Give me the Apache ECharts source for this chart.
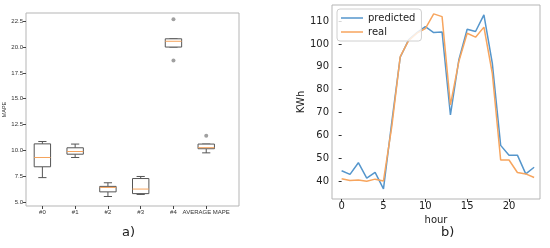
<!DOCTYPE html>
<html>
<head>
<meta charset="utf-8">
<script src="https://cdn.jsdelivr.net/npm/echarts@6/dist/echarts.min.js"></script>
<style>
  html, body { margin: 0; padding: 0; background: #fff; }
  #main { width: 550px; height: 248px; }
</style>
</head>
<body>
<div id="main"></div>
<script>
// a) MAPE boxplots
var boxNames = ['#0', '#1', '#2', '#3', '#4', 'AVERAGE MAPE'];
var boxMin = [7.35, 9.3, 5.52, 5.72, 20.0, 9.75];
var boxQ1 = [8.4, 9.62, 5.97, 5.8, 20.0, 10.15];
var boxMedian = [9.3, 9.88, 6.4, 6.24, 20.56, 10.25];
var boxQ3 = [10.62, 10.24, 6.5, 7.26, 20.8, 10.6];
var boxMax = [10.85, 10.6, 6.85, 7.46, 20.8, 10.6];
var outliers = [[5, 22.7], [5, 18.7], [6, 11.4]];
var mapeTicks = [5, 7.5, 10, 12.5, 15, 17.5, 20, 22.5];

// b) hourly consumption
var hours = [0, 1, 2, 3, 4, 5, 6, 7, 8, 9, 10, 11, 12, 13, 14, 15, 16, 17, 18, 19, 20, 21, 22, 23];
var predicted = [44.5, 42.9, 48.0, 41.2, 43.8, 36.5, 66, 94.2, 101.8, 105, 107.6, 105.0, 105.3, 68.9, 93, 106.5, 105.5, 112.8, 91.6, 55.6, 51.3, 51.3, 43.1, 46.0];
var real = [41.0, 40.2, 40.4, 39.9, 40.8, 40.0, 64, 94.5, 101.5, 104.8, 106.8, 113.2, 112.0, 73.3, 92.3, 104.7, 103.0, 107.4, 87.2, 49.2, 49.2, 43.7, 43.1, 41.5];
var hourTicks = [0, 5, 10, 15, 20];
var kwhTicks = [40, 50, 60, 70, 80, 90, 100, 110];

var boxData = [];
for (var i = 0; i < boxNames.length; i++) {
    boxData.push([i + 1, boxMin[i], boxQ1[i], boxMedian[i], boxQ3[i], boxMax[i]]);
}

function pairs(xs, ys) {
    var out = [];
    for (var i = 0; i < xs.length; i++) out.push([xs[i], ys[i]]);
    return out;
}

var chart = echarts.init(document.getElementById('main'));

var edge = '#555';
var frame = '#b5b5b5';
var smallFont = 'Liberation Sans';
var bigFont = 'DejaVu Sans';

function renderBox(params, api) {
    var x = api.value(0);
    var pMin = api.coord([x, api.value(1)]);
    var pQ1 = api.coord([x, api.value(2)]);
    var pMed = api.coord([x, api.value(3)]);
    var pQ3 = api.coord([x, api.value(4)]);
    var pMax = api.coord([x, api.value(5)]);
    var w = api.size([0.5, 0])[0];
    var cx = pMed[0];
    var line = { stroke: edge, lineWidth: 1 };
    return {
        type: 'group',
        children: [
            { type: 'line', shape: { x1: cx, y1: pQ1[1], x2: cx, y2: pMin[1] }, style: line },
            { type: 'line', shape: { x1: cx, y1: pQ3[1], x2: cx, y2: pMax[1] }, style: line },
            { type: 'line', shape: { x1: cx - w / 4, y1: pMin[1], x2: cx + w / 4, y2: pMin[1] }, style: line },
            { type: 'line', shape: { x1: cx - w / 4, y1: pMax[1], x2: cx + w / 4, y2: pMax[1] }, style: line },
            { type: 'rect', shape: { x: cx - w / 2, y: pQ3[1], width: w, height: pQ1[1] - pQ3[1] },
              style: { fill: '#fff', stroke: edge, lineWidth: 1 } },
            { type: 'line', shape: { x1: cx - w / 2, y1: pMed[1], x2: cx + w / 2, y2: pMed[1] },
              style: { stroke: '#f5a35c', lineWidth: 1 } }
        ]
    };
}

var option = {
    animation: false,
    backgroundColor: '#fff',

    grid: [
        { left: 26, right: 311, top: 13, bottom: 42, show: true, borderColor: frame, borderWidth: 1 },
        { left: 332, right: 10, top: 5, bottom: 49, show: true, borderColor: frame, borderWidth: 1 }
    ],

    xAxis: [
        {
            gridIndex: 0, type: 'value', min: 0.5, max: 7,
            axisLine: { show: false },
            splitLine: { show: false },
            axisTick: { show: true, length: 3, lineStyle: { color: '#444' }, customValues: [1, 2, 3, 4, 5, 6] },
            axisLabel: {
                customValues: [1, 2, 3, 4, 5, 6], fontSize: 6, color: '#333', margin: 3, fontFamily: smallFont,
                formatter: function (v) { return boxNames[Math.round(v) - 1] || ''; }
            }
        },
        {
            gridIndex: 1, type: 'value', min: -1.15, max: 23.7,
            name: 'hour', nameLocation: 'middle', nameGap: 9,
            nameTextStyle: { fontSize: 10, color: '#222', fontFamily: bigFont },
            axisLine: { show: false },
            splitLine: { show: false },
            axisTick: { show: true, length: 3, lineStyle: { color: '#333' }, customValues: hourTicks },
            axisLabel: { customValues: hourTicks, fontSize: 10, color: '#222', margin: 2, fontFamily: bigFont }
        }
    ],

    yAxis: [
        {
            gridIndex: 0, type: 'value', min: 4.6, max: 23.3,
            name: 'MAPE', nameLocation: 'middle', nameGap: 16, nameRotate: 90,
            nameTextStyle: { fontSize: 5.5, color: '#333', fontFamily: smallFont },
            axisLine: { show: false },
            splitLine: { show: false },
            axisTick: { show: true, length: 3, lineStyle: { color: '#444' }, customValues: mapeTicks },
            axisLabel: {
                customValues: mapeTicks, fontSize: 6, color: '#333', margin: 3, fontFamily: smallFont,
                formatter: function (v) { return v.toFixed(1); }
            }
        },
        {
            gridIndex: 1, type: 'value', min: 32.1, max: 117.1,
            name: 'KWh', nameLocation: 'middle', nameGap: 20, nameRotate: 90,
            nameTextStyle: { fontSize: 10, color: '#222', fontFamily: bigFont },
            axisLine: { show: false },
            splitLine: { show: false },
            axisTick: { show: true, length: 3, lineStyle: { color: '#333' }, customValues: kwhTicks },
            axisLabel: { customValues: kwhTicks, fontSize: 10, color: '#222', margin: 3, fontFamily: bigFont }
        }
    ],

    legend: {
        orient: 'vertical',
        left: 337, top: 9,
        data: [{ name: 'predicted', icon: 'rect' }, { name: 'real', icon: 'rect' }],
        itemWidth: 22, itemHeight: 1.5, itemGap: 2,
        padding: [3, 6, 3, 4],
        backgroundColor: 'rgba(255,255,255,0.8)',
        borderColor: '#d0d0d0', borderWidth: 1, borderRadius: 3,
        textStyle: { fontSize: 10, color: '#222', fontFamily: bigFont, lineHeight: 12 }
    },

    graphic: [
        { type: 'text', left: 122, top: 226, style: { text: 'a)', fontSize: 13, fill: '#222', fontFamily: bigFont } },
        { type: 'text', left: 441, top: 226, style: { text: 'b)', fontSize: 13, fill: '#222', fontFamily: bigFont } }
    ],

    series: [
        {
            type: 'custom', name: 'MAPE', xAxisIndex: 0, yAxisIndex: 0,
            renderItem: renderBox,
            encode: { x: 0, y: [1, 2, 3, 4, 5] },
            data: boxData
        },
        {
            type: 'scatter', xAxisIndex: 0, yAxisIndex: 0,
            symbol: 'circle', symbolSize: 4,
            itemStyle: { color: '#888' },
            data: outliers
        },
        {
            type: 'line', name: 'predicted', xAxisIndex: 1, yAxisIndex: 1,
            showSymbol: false, symbol: 'none',
            color: '#5596cc',
            lineStyle: { width: 1.5, color: '#5596cc' },
            data: pairs(hours, predicted)
        },
        {
            type: 'line', name: 'real', xAxisIndex: 1, yAxisIndex: 1,
            showSymbol: false, symbol: 'none',
            color: '#f7a55e',
            lineStyle: { width: 1.5, color: '#f7a55e' },
            data: pairs(hours, real)
        }
    ]
};

chart.setOption(option);

window.onresize = function () {
    setTimeout(function () {
        chart.resize();
    }, 200);
};
</script>
</body>
</html>
